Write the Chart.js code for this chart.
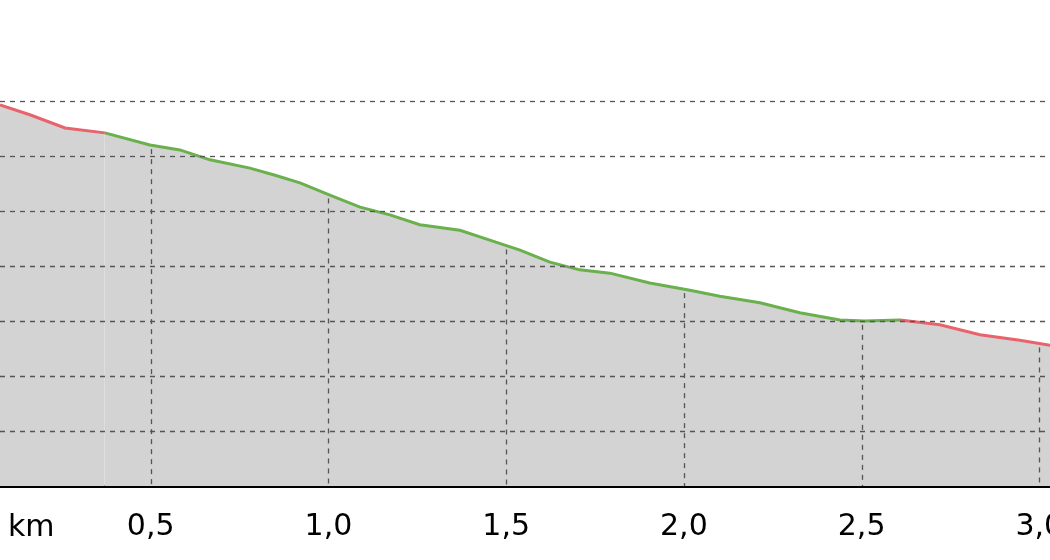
<!DOCTYPE html>
<html>
<head>
<meta charset="utf-8">
<script src="https://cdn.jsdelivr.net/npm/chart.js@4"></script>
<style>
  body { margin: 0; background: #fff; }
  #wrap { position: relative; width: 1050px; height: 560px; }
  #km { position: absolute; left: 8px; top: 508px; font: 30px "DejaVu Sans"; color: #000; }
</style>
</head>
<body>
<div id="wrap">
  <canvas id="profile" width="1050" height="560"></canvas>
  <span id="km">km</span>
</div>
<script>
// distance (km) and elevation (grid units)
const distances = [0.076, 0.160, 0.259, 0.371, 0.498, 0.582, 0.667, 0.779, 0.850, 0.920, 1.004, 1.089,
    1.173, 1.257, 1.370, 1.454, 1.539, 1.623, 1.707, 1.792, 1.904, 2.017, 2.101, 2.214, 2.326, 2.439,
    2.509, 2.608, 2.720, 2.833, 2.945, 3.030];
const elevations = [6.93, 6.75, 6.51, 6.42, 6.20, 6.11, 5.93, 5.78, 5.65, 5.51, 5.29, 5.07,
    4.93, 4.75, 4.65, 4.47, 4.29, 4.07, 3.93, 3.87, 3.69, 3.56, 3.45, 3.33, 3.15, 3.02,
    3.00, 3.02, 2.93, 2.75, 2.65, 2.56];
const kmTicks = [0.5, 1.0, 1.5, 2.0, 2.5, 3.0];
const levelLines = [1, 2, 3, 4, 5, 6, 7];
const steepFrom = 0.37, steepTo = 2.51;

const points = distances.map((d, i) => ({ x: d, y: elevations[i] }));

function curveAt(x) {
    for (let i = 1; i < points.length; i++) {
        if (points[i].x >= x) {
            const a = points[i - 1], b = points[i];
            return a.y + (b.y - a.y) * (x - a.x) / (b.x - a.x);
        }
    }
    return points[points.length - 1].y;
}

const profileGrid = {
    id: 'profileGrid',
    afterDatasetsDraw(chart) {
        const { ctx, scales: { x, y }, chartArea } = chart;
        ctx.save();
        ctx.strokeStyle = '#555';
        ctx.lineWidth = 1.3;
        ctx.setLineDash([5, 5]);
        levelLines.forEach(v => {
            const py = Math.round(y.getPixelForValue(v)) + 0.5;
            ctx.beginPath();
            ctx.moveTo(chartArea.left, py);
            ctx.lineTo(chartArea.right, py);
            ctx.stroke();
        });
        kmTicks.forEach(v => {
            const px = Math.round(x.getPixelForValue(v)) + 0.5;
            const top = y.getPixelForValue(curveAt(v)) + 4;
            ctx.beginPath();
            ctx.moveTo(px, top);
            ctx.lineTo(px, chartArea.bottom);
            ctx.stroke();
        });
        ctx.setLineDash([]);
        ctx.fillStyle = '#000';
        ctx.font = '30px "DejaVu Sans"';
        ctx.textAlign = 'center';
        ctx.textBaseline = 'middle';
        kmTicks.forEach(v => {
            ctx.fillText(v.toFixed(1).replace('.', ','), x.getPixelForValue(v), 527);
        });
        ctx.restore();
    }
};

new Chart(document.getElementById('profile'), {
    type: 'line',
    data: {
        datasets: [{
            data: points,
            borderWidth: 3,
            pointRadius: 0,
            fill: 'origin',
            backgroundColor: '#d3d3d3',
            segment: {
                borderColor: c => (c.p0.parsed.x < steepFrom || c.p0.parsed.x >= steepTo) ? '#e8636b' : '#6ab04c'
            }
        }]
    },
    options: {
        responsive: false,
        animation: false,
        layout: { padding: 0 },
        plugins: { legend: { display: false }, tooltip: { enabled: false } },
        scales: {
            x: {
                type: 'linear',
                min: 0.076,
                max: 3.03,
                afterFit: s => { s.height = 74; },
                border: { color: '#000', width: 3 },
                grid: { display: false, drawTicks: false },
                ticks: { display: false }
            },
            y: {
                display: true,
                min: 0,
                max: 8.836,
                afterFit: s => { s.width = 0; },
                border: { display: false },
                ticks: { display: false },
                grid: { display: false }
            }
        }
    },
    plugins: [profileGrid]
});
</script>
</body>
</html>
